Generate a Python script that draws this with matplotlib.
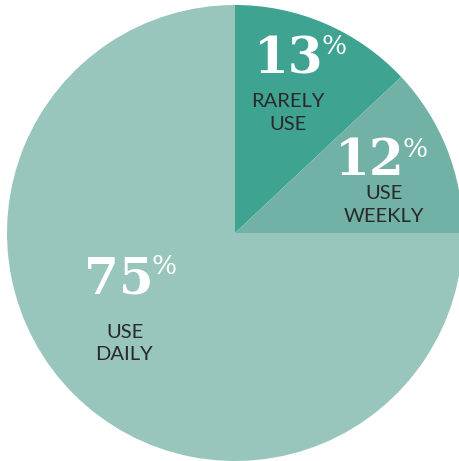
import matplotlib
matplotlib.use("Agg")
import matplotlib.pyplot as plt

# Data
categories = ["RARELY\nUSE", "USE\nWEEKLY", "USE\nDAILY"]
values = [13, 12, 75]
colors = ["#3fa391", "#72b1a5", "#98c6bc"]

W, H = 460, 461
fig = plt.figure(figsize=(W / 100, H / 100), dpi=100)
ax = fig.add_axes([0, 0, 1, 1])
ax.set_xlim(0, W)
ax.set_ylim(0, H)
ax.set_aspect("equal")
ax.axis("off")

cx, cy, r = 235, H - 233, 228
ax.pie(values, colors=colors, startangle=90, counterclock=False,
       center=(cx, cy), radius=r, wedgeprops=dict(linewidth=0))
ax.set_xlim(0, W)
ax.set_ylim(0, H)

# layout (pixel coords from top-left): number right edge, baseline, label centers
layout = [
    dict(nx=324, nb=73, pt=35, lines=[(288, 101), (288, 124)]),
    dict(nx=405, nb=175, pt=138, lines=[(384, 193), (384, 216)]),
    dict(nx=154, nb=293, pt=255, lines=[(125, 332), (124, 355)]),
]

for v, cat, L in zip(values, categories, layout):
    ax.text(L["nx"], H - L["nb"], f"{v}", ha="right", va="baseline",
            fontfamily="DejaVu Serif", fontweight="bold", fontsize=36,
            color="white")
    ax.text(L["nx"] - 2, H - L["pt"] + 1, "%", ha="left", va="top",
            fontfamily="DejaVu Serif", fontsize=19, color="white")
    for line, (lx, ly) in zip(cat.split("\n"), L["lines"]):
        ax.text(lx, H - ly, line, ha="center", va="center",
                fontfamily="Lato", fontsize=14.5, color="#2a2a2a")

fig.savefig("out.png", dpi=100)
